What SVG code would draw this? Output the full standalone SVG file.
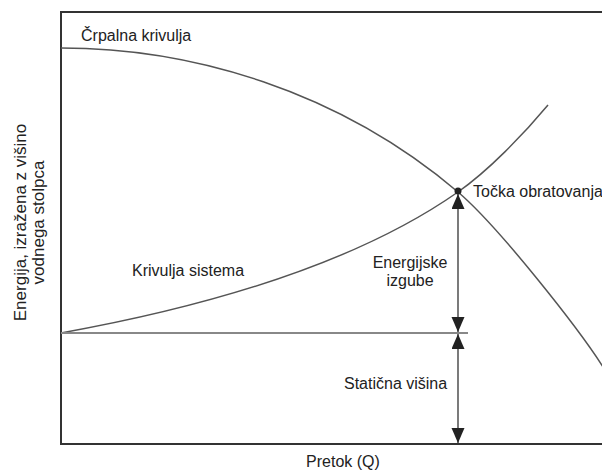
<svg xmlns="http://www.w3.org/2000/svg" width="602" height="471" viewBox="0 0 602 471">
<style>
text{font-family:"Liberation Sans",Arial,sans-serif;font-size:16px;fill:#222}
.ylab{font-size:17px}
.curve{fill:none;stroke:#555;stroke-width:1.5}
.dim{stroke:#333;stroke-width:1.3;fill:none;marker-start:url(#ah);marker-end:url(#ah)}
</style>
<defs>
<marker id="ah" markerUnits="userSpaceOnUse" markerWidth="16" markerHeight="14" refX="15" refY="6.5" orient="auto-start-reverse" viewBox="0 0 16 14">
<path d="M0,0 L15,6.5 L0,13 z" fill="#222"/>
</marker>
</defs>
<rect width="602" height="471" fill="#fff"/>
<g id="frame">
<rect x="61" y="12" width="580" height="432" fill="none" stroke="#333" stroke-width="2"/>
</g>
<g id="curves">
<path id="pump-curve" class="curve" d="M61,48 C191,48 338,90 458,192 C498,226 580,330 605,370"/>
<path id="system-curve" class="curve" d="M61,333 C191,309.6 348,269 458,192 C488,171 523,135 548,105"/>
<line id="static-line" x1="61" y1="333" x2="468" y2="333" stroke="#888" stroke-width="2"/>
</g>
<g id="connectors">
<line class="dim" x1="458" y1="194" x2="458" y2="332"/>
<line class="dim" x1="458" y1="334" x2="458" y2="443"/>
</g>
<g id="operating-point">
<circle cx="458" cy="191" r="3.5" fill="#222"/>
</g>
<g id="labels">
<text x="81" y="41">Črpalna krivulja</text>
<text x="473" y="197">Točka obratovanja</text>
<text x="132" y="276">Krivulja sistema</text>
<text x="410" y="268" text-anchor="middle">Energijske</text>
<text x="410" y="286" text-anchor="middle">izgube</text>
<text x="344" y="389">Statična višina</text>
<text x="343" y="467" text-anchor="middle">Pretok (Q)</text>
<g transform="translate(0,222.5) rotate(-90)">
<text class="ylab" x="0" y="26" text-anchor="middle">Energija, izražena z višino</text>
<text class="ylab" x="0" y="44" text-anchor="middle">vodnega stolpca</text>
</g>
</g>
</svg>
